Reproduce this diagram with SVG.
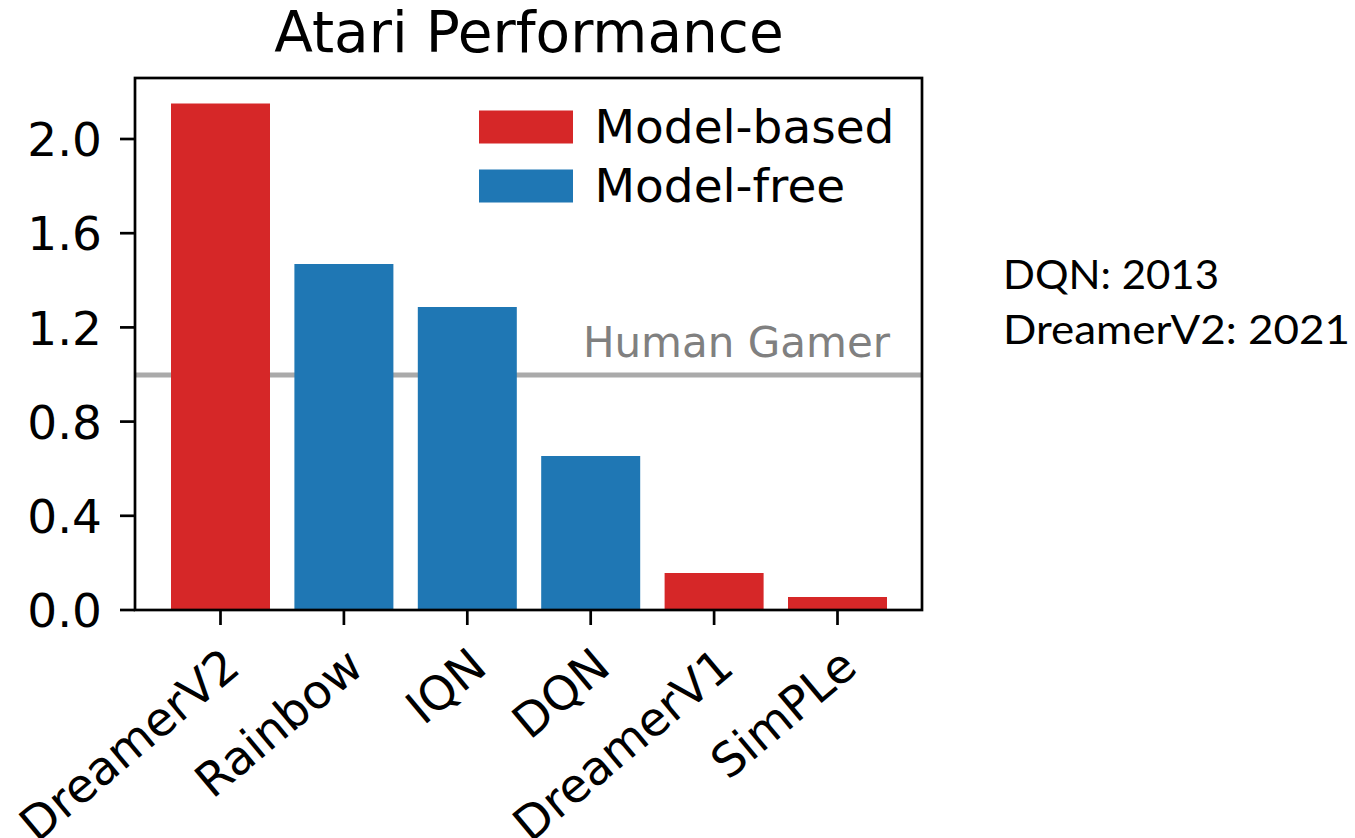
<svg xmlns="http://www.w3.org/2000/svg" width="1355" height="838" viewBox="0 0 1355 838">
<style>
text{font-family:"DejaVu Sans",Verdana,sans-serif;fill:#000}
.tick{font-size:47px}
.tl{stroke:#000;stroke-width:2.7;fill:none}
.mb{fill:#d62728}
.mf{fill:#1f77b4}
.note{font-family:Lato,"Open Sans",sans-serif;font-size:40px}
</style>
<rect width="1355" height="838" fill="#fff"/>
<g id="title"><text x="529" y="52" font-size="56.5" text-anchor="middle">Atari Performance</text></g>
<g id="human-gamer">
<line x1="135" y1="375" x2="922" y2="375" stroke="#aaaaaa" stroke-width="5"/>
<text x="890" y="357" font-size="42" text-anchor="end" style="fill:#808080">Human Gamer</text>
</g>
<g id="bars">
<rect id="bar-dreamerv2" class="mb" x="171" y="103.5" width="99" height="506.5"/>
<rect id="bar-rainbow" class="mf" x="294.4" y="264" width="99" height="346"/>
<rect id="bar-iqn" class="mf" x="417.8" y="307" width="99" height="303"/>
<rect id="bar-dqn" class="mf" x="541.2" y="456" width="99" height="154"/>
<rect id="bar-dreamerv1" class="mb" x="664.6" y="573" width="99" height="37"/>
<rect id="bar-simple" class="mb" x="788" y="597" width="99" height="13"/>
</g>
<g id="axes">
<rect class="tl" x="135" y="78" width="787" height="532"/>
<g id="y-ticks">
<line class="tl" x1="120" y1="610" x2="135" y2="610"/>
<line class="tl" x1="120" y1="515.8" x2="135" y2="515.8"/>
<line class="tl" x1="120" y1="421.6" x2="135" y2="421.6"/>
<line class="tl" x1="120" y1="327.4" x2="135" y2="327.4"/>
<line class="tl" x1="120" y1="233.2" x2="135" y2="233.2"/>
<line class="tl" x1="120" y1="139" x2="135" y2="139"/>
<text class="tick" x="102" y="627.2" text-anchor="end">0.0</text>
<text class="tick" x="102" y="533" text-anchor="end">0.4</text>
<text class="tick" x="102" y="438.8" text-anchor="end">0.8</text>
<text class="tick" x="102" y="344.6" text-anchor="end">1.2</text>
<text class="tick" x="102" y="250.4" text-anchor="end">1.6</text>
<text class="tick" x="102" y="156.2" text-anchor="end">2.0</text>
</g>
<g id="x-ticks">
<line class="tl" x1="220.5" y1="610" x2="220.5" y2="625"/>
<line class="tl" x1="343.9" y1="610" x2="343.9" y2="625"/>
<line class="tl" x1="467.3" y1="610" x2="467.3" y2="625"/>
<line class="tl" x1="590.7" y1="610" x2="590.7" y2="625"/>
<line class="tl" x1="714.1" y1="610" x2="714.1" y2="625"/>
<line class="tl" x1="837.5" y1="610" x2="837.5" y2="625"/>
<text class="tick" text-anchor="end" transform="translate(242.5,671) rotate(-40)">DreamerV2</text>
<text class="tick" text-anchor="end" transform="translate(365.9,671) rotate(-40)">Rainbow</text>
<text class="tick" text-anchor="end" transform="translate(489.3,671) rotate(-40)">IQN</text>
<text class="tick" text-anchor="end" transform="translate(612.7,671) rotate(-40)">DQN</text>
<text class="tick" text-anchor="end" transform="translate(736.1,671) rotate(-40)">DreamerV1</text>
<text class="tick" text-anchor="end" transform="translate(859.5,671) rotate(-40)">SimPLe</text>
</g>
</g>
<g id="legend">
<rect class="mb" x="479" y="110.5" width="94" height="33"/>
<rect class="mf" x="479" y="169.5" width="94" height="33"/>
<text class="tick" x="594.5" y="143">Model-based</text>
<text class="tick" x="594.5" y="202">Model-free</text>
</g>
<g id="notes">
<text class="note" x="1003" y="289" textLength="216" lengthAdjust="spacingAndGlyphs">DQN: 2013</text>
<text class="note" x="1003" y="344" textLength="347" lengthAdjust="spacingAndGlyphs">DreamerV2: 2021</text>
</g>
</svg>
